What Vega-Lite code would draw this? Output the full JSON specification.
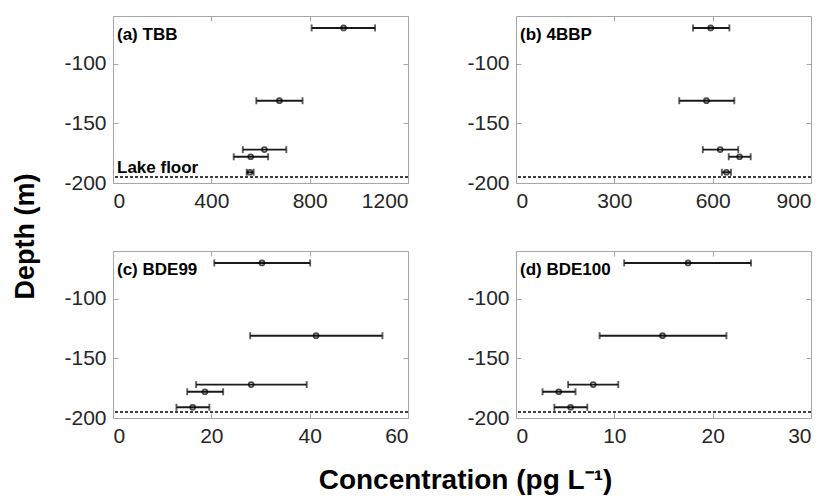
{
  "$schema": "https://vega.github.io/schema/vega-lite/v6.json",
  "padding": {"left": 10, "top": 15, "right": 4, "bottom": 6},
  "bounds": "flush",
  "columns": 2,
  "spacing": {"row": 68, "column": 108},
  "config": {
    "font": "Liberation Sans",
    "locale": {"number": {"decimal": ".", "thousands": ",", "grouping": [3], "currency": ["$", ""], "minus": "-"}},
    "view": {"stroke": "#a6a6a6", "strokeWidth": 1},
    "axis": {
      "domain": false, "grid": false, "tickSize": -5, "tickColor": "#a6a6a6", "tickWidth": 1,
      "labelFontSize": 21, "labelColor": "#262626", "labelFont": "Liberation Sans", "labelPadding": 12,
      "titleFont": "Liberation Sans", "titleFontSize": 27, "titleFontWeight": "bold", "titleColor": "#000000",
      "format": "d"
    }
  },
  "datasets": {
    "obs": [
      {"panel": "a", "depth": -70, "conc": 938, "lo": 808, "hi": 1066},
      {"panel": "a", "depth": -131, "conc": 677, "lo": 583, "hi": 771},
      {"panel": "a", "depth": -172, "conc": 616, "lo": 528, "hi": 705},
      {"panel": "a", "depth": -178, "conc": 560, "lo": 491, "hi": 631},
      {"panel": "a", "depth": -191, "conc": 557, "lo": 544, "hi": 572},
      {"panel": "b", "depth": -70, "conc": 594, "lo": 540, "hi": 651},
      {"panel": "b", "depth": -131, "conc": 581, "lo": 498, "hi": 666},
      {"panel": "b", "depth": -172, "conc": 623, "lo": 570, "hi": 678},
      {"panel": "b", "depth": -178, "conc": 682, "lo": 649, "hi": 716},
      {"panel": "b", "depth": -191, "conc": 642, "lo": 628, "hi": 656},
      {"panel": "c", "depth": -70, "conc": 30.3, "lo": 20.6, "hi": 40.1},
      {"panel": "c", "depth": -131, "conc": 41.3, "lo": 27.9, "hi": 54.8},
      {"panel": "c", "depth": -172, "conc": 28.1, "lo": 16.9, "hi": 39.4},
      {"panel": "c", "depth": -178, "conc": 18.7, "lo": 15.1, "hi": 22.4},
      {"panel": "c", "depth": -191, "conc": 16.2, "lo": 12.9, "hi": 19.6},
      {"panel": "d", "depth": -70, "conc": 17.5, "lo": 11.0, "hi": 23.9},
      {"panel": "d", "depth": -131, "conc": 14.9, "lo": 8.5, "hi": 21.4},
      {"panel": "d", "depth": -172, "conc": 7.85, "lo": 5.3, "hi": 10.4},
      {"panel": "d", "depth": -178, "conc": 4.35, "lo": 2.7, "hi": 6.05},
      {"panel": "d", "depth": -191, "conc": 5.55, "lo": 3.9, "hi": 7.25}
    ],
    "panels": [
      {"panel": "a", "label": "(a) TBB", "floor": -195, "floorLabel": "Lake floor"},
      {"panel": "b", "label": "(b) 4BBP", "floor": -195, "floorLabel": ""},
      {"panel": "c", "label": "(c) BDE99", "floor": -195, "floorLabel": ""},
      {"panel": "d", "label": "(d) BDE100", "floor": -195, "floorLabel": ""}
    ]
  },
  "concat": [
    {
      "width": 295, "height": 167,
      "layer": [
        {"data": {"name": "panels"}, "transform": [{"filter": "datum.panel === 'a'"}],
         "mark": {"type": "rule", "color": "#000000", "strokeDash": [3, 2], "strokeWidth": 1.5},
         "encoding": {"y": {"field": "floor", "type": "quantitative", "scale": {"domain": [-200, -60], "nice": false, "zero": false}, "axis": null}}},
        {"data": {"name": "obs"}, "transform": [{"filter": "datum.panel === 'a'"}],
         "mark": {"type": "errorbar", "ticks": true, "size": 7, "thickness": 1.9, "color": "#1a1a1a"},
         "encoding": {
           "x": {"field": "lo", "type": "quantitative", "scale": {"domain": [0, 1200], "nice": false, "zero": false}, "axis": {"values": [0, 400, 800, 1200], "title": null}},
           "x2": {"field": "hi"},
           "y": {"field": "depth", "type": "quantitative", "scale": {"domain": [-200, -60], "nice": false, "zero": false},
                 "axis": {"values": [-200, -150, -100], "title": "Depth (m)", "titleX": -88, "titleY": 220, "titleAngle": -90, "titleAlign": "center", "titleBaseline": "middle"}}
         }},
        {"data": {"name": "obs"}, "transform": [{"filter": "datum.panel === 'a'"}],
         "mark": {"type": "point", "shape": "circle", "size": 24, "filled": false, "color": "#000000", "strokeWidth": 1.8},
         "encoding": {
           "x": {"field": "conc", "type": "quantitative", "scale": {"domain": [0, 1200], "nice": false, "zero": false}, "axis": {"orient": "top", "labels": false, "values": [0, 400, 800, 1200], "title": null}},
           "y": {"field": "depth", "type": "quantitative", "scale": {"domain": [-200, -60], "nice": false, "zero": false}, "axis": {"orient": "right", "labels": false, "values": [-200, -150, -100], "title": null}}
         }},
        {"data": {"name": "panels"}, "transform": [{"filter": "datum.panel === 'a'"}],
         "mark": {"type": "text", "align": "left", "baseline": "alphabetic", "dx": 4, "fontSize": 17, "fontWeight": "bold", "color": "#000000"},
         "encoding": {"text": {"field": "label"},
           "x": {"datum": 0, "type": "quantitative", "scale": {"domain": [0, 1200], "nice": false, "zero": false}, "axis": null},
           "y": {"datum": -80, "type": "quantitative", "scale": {"domain": [-200, -60], "nice": false, "zero": false}, "axis": null}}},
        {"data": {"name": "panels"}, "transform": [{"filter": "datum.panel === 'a'"}],
         "mark": {"type": "text", "align": "left", "baseline": "alphabetic", "dx": 4, "dy": -4, "fontSize": 17, "fontWeight": "bold", "color": "#000000"},
         "encoding": {"text": {"field": "floorLabel"},
           "x": {"datum": 0, "type": "quantitative", "scale": {"domain": [0, 1200], "nice": false, "zero": false}, "axis": null},
           "y": {"field": "floor", "type": "quantitative", "scale": {"domain": [-200, -60], "nice": false, "zero": false}, "axis": null}}}
      ],
      "resolve": {"axis": {"x": "independent", "y": "independent"}}
    },
    {
      "width": 295, "height": 167,
      "layer": [
        {"data": {"name": "panels"}, "transform": [{"filter": "datum.panel === 'b'"}],
         "mark": {"type": "rule", "color": "#000000", "strokeDash": [3, 2], "strokeWidth": 1.5},
         "encoding": {"y": {"field": "floor", "type": "quantitative", "scale": {"domain": [-200, -60], "nice": false, "zero": false}, "axis": null}}},
        {"data": {"name": "obs"}, "transform": [{"filter": "datum.panel === 'b'"}],
         "mark": {"type": "errorbar", "ticks": true, "size": 7, "thickness": 1.9, "color": "#1a1a1a"},
         "encoding": {
           "x": {"field": "lo", "type": "quantitative", "scale": {"domain": [0, 900], "nice": false, "zero": false}, "axis": {"values": [0, 300, 600, 900], "title": null}},
           "x2": {"field": "hi"},
           "y": {"field": "depth", "type": "quantitative", "scale": {"domain": [-200, -60], "nice": false, "zero": false}, "axis": {"values": [-200, -150, -100], "title": null}}
         }},
        {"data": {"name": "obs"}, "transform": [{"filter": "datum.panel === 'b'"}],
         "mark": {"type": "point", "shape": "circle", "size": 24, "filled": false, "color": "#000000", "strokeWidth": 1.8},
         "encoding": {
           "x": {"field": "conc", "type": "quantitative", "scale": {"domain": [0, 900], "nice": false, "zero": false}, "axis": {"orient": "top", "labels": false, "values": [0, 300, 600, 900], "title": null}},
           "y": {"field": "depth", "type": "quantitative", "scale": {"domain": [-200, -60], "nice": false, "zero": false}, "axis": {"orient": "right", "labels": false, "values": [-200, -150, -100], "title": null}}
         }},
        {"data": {"name": "panels"}, "transform": [{"filter": "datum.panel === 'b'"}],
         "mark": {"type": "text", "align": "left", "baseline": "alphabetic", "dx": 4, "fontSize": 17, "fontWeight": "bold", "color": "#000000"},
         "encoding": {"text": {"field": "label"},
           "x": {"datum": 0, "type": "quantitative", "scale": {"domain": [0, 900], "nice": false, "zero": false}, "axis": null},
           "y": {"datum": -80, "type": "quantitative", "scale": {"domain": [-200, -60], "nice": false, "zero": false}, "axis": null}}}
      ],
      "resolve": {"axis": {"x": "independent", "y": "independent"}}
    },
    {
      "width": 295, "height": 167,
      "layer": [
        {"data": {"name": "panels"}, "transform": [{"filter": "datum.panel === 'c'"}],
         "mark": {"type": "rule", "color": "#000000", "strokeDash": [3, 2], "strokeWidth": 1.5},
         "encoding": {"y": {"field": "floor", "type": "quantitative", "scale": {"domain": [-200, -60], "nice": false, "zero": false}, "axis": null}}},
        {"data": {"name": "obs"}, "transform": [{"filter": "datum.panel === 'c'"}],
         "mark": {"type": "errorbar", "ticks": true, "size": 7, "thickness": 1.9, "color": "#1a1a1a"},
         "encoding": {
           "x": {"field": "lo", "type": "quantitative", "scale": {"domain": [0, 60], "nice": false, "zero": false},
                 "axis": {"values": [0, 20, 40, 60], "title": "Concentration (pg L⁻¹)", "titleFontSize": 28, "titleX": 352, "titleY": 70, "titleAlign": "center", "titleBaseline": "alphabetic", "titleAngle": 0}},
           "x2": {"field": "hi"},
           "y": {"field": "depth", "type": "quantitative", "scale": {"domain": [-200, -60], "nice": false, "zero": false}, "axis": {"values": [-200, -150, -100], "title": null}}
         }},
        {"data": {"name": "obs"}, "transform": [{"filter": "datum.panel === 'c'"}],
         "mark": {"type": "point", "shape": "circle", "size": 24, "filled": false, "color": "#000000", "strokeWidth": 1.8},
         "encoding": {
           "x": {"field": "conc", "type": "quantitative", "scale": {"domain": [0, 60], "nice": false, "zero": false}, "axis": {"orient": "top", "labels": false, "values": [0, 20, 40, 60], "title": null}},
           "y": {"field": "depth", "type": "quantitative", "scale": {"domain": [-200, -60], "nice": false, "zero": false}, "axis": {"orient": "right", "labels": false, "values": [-200, -150, -100], "title": null}}
         }},
        {"data": {"name": "panels"}, "transform": [{"filter": "datum.panel === 'c'"}],
         "mark": {"type": "text", "align": "left", "baseline": "alphabetic", "dx": 4, "fontSize": 17, "fontWeight": "bold", "color": "#000000"},
         "encoding": {"text": {"field": "label"},
           "x": {"datum": 0, "type": "quantitative", "scale": {"domain": [0, 60], "nice": false, "zero": false}, "axis": null},
           "y": {"datum": -80, "type": "quantitative", "scale": {"domain": [-200, -60], "nice": false, "zero": false}, "axis": null}}}
      ],
      "resolve": {"axis": {"x": "independent", "y": "independent"}}
    },
    {
      "width": 295, "height": 167,
      "layer": [
        {"data": {"name": "panels"}, "transform": [{"filter": "datum.panel === 'd'"}],
         "mark": {"type": "rule", "color": "#000000", "strokeDash": [3, 2], "strokeWidth": 1.5},
         "encoding": {"y": {"field": "floor", "type": "quantitative", "scale": {"domain": [-200, -60], "nice": false, "zero": false}, "axis": null}}},
        {"data": {"name": "obs"}, "transform": [{"filter": "datum.panel === 'd'"}],
         "mark": {"type": "errorbar", "ticks": true, "size": 7, "thickness": 1.9, "color": "#1a1a1a"},
         "encoding": {
           "x": {"field": "lo", "type": "quantitative", "scale": {"domain": [0, 30], "nice": false, "zero": false}, "axis": {"values": [0, 10, 20, 30], "title": null}},
           "x2": {"field": "hi"},
           "y": {"field": "depth", "type": "quantitative", "scale": {"domain": [-200, -60], "nice": false, "zero": false}, "axis": {"values": [-200, -150, -100], "title": null}}
         }},
        {"data": {"name": "obs"}, "transform": [{"filter": "datum.panel === 'd'"}],
         "mark": {"type": "point", "shape": "circle", "size": 24, "filled": false, "color": "#000000", "strokeWidth": 1.8},
         "encoding": {
           "x": {"field": "conc", "type": "quantitative", "scale": {"domain": [0, 30], "nice": false, "zero": false}, "axis": {"orient": "top", "labels": false, "values": [0, 10, 20, 30], "title": null}},
           "y": {"field": "depth", "type": "quantitative", "scale": {"domain": [-200, -60], "nice": false, "zero": false}, "axis": {"orient": "right", "labels": false, "values": [-200, -150, -100], "title": null}}
         }},
        {"data": {"name": "panels"}, "transform": [{"filter": "datum.panel === 'd'"}],
         "mark": {"type": "text", "align": "left", "baseline": "alphabetic", "dx": 4, "fontSize": 17, "fontWeight": "bold", "color": "#000000"},
         "encoding": {"text": {"field": "label"},
           "x": {"datum": 0, "type": "quantitative", "scale": {"domain": [0, 30], "nice": false, "zero": false}, "axis": null},
           "y": {"datum": -80, "type": "quantitative", "scale": {"domain": [-200, -60], "nice": false, "zero": false}, "axis": null}}}
      ],
      "resolve": {"axis": {"x": "independent", "y": "independent"}}
    }
  ]
}
